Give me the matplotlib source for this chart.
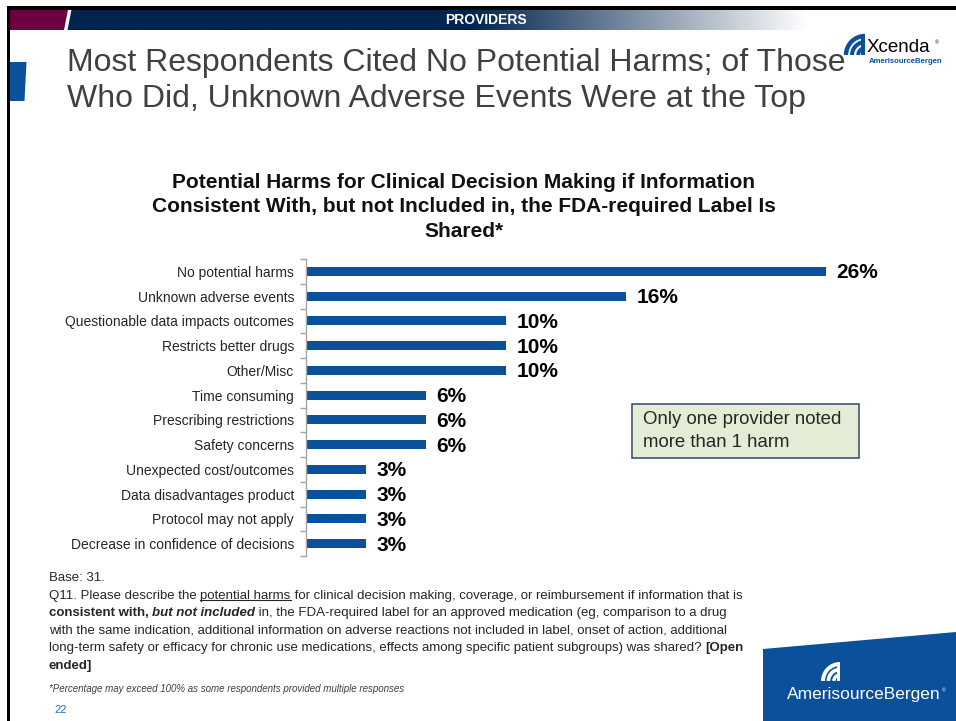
import numpy as np
import matplotlib
matplotlib.use("Agg")
import matplotlib.pyplot as plt
from matplotlib.patches import Polygon, Rectangle, Arc

# ---------------- data ----------------
categories = [
    "No potential harms",
    "Unknown adverse events",
    "Questionable data impacts outcomes",
    "Restricts better drugs",
    "Other/Misc",
    "Time consuming",
    "Prescribing restrictions",
    "Safety concerns",
    "Unexpected cost/outcomes",
    "Data disadvantages product",
    "Protocol may not apply",
    "Decrease in confidence of decisions",
]
values = [26, 16, 10, 10, 10, 6, 6, 6, 3, 3, 3, 3]
value_labels = ["26%", "16%", "10%", "10%", "10%", "6%", "6%", "6%", "3%", "3%", "3%", "3%"]

slide_title = ["Most Respondents Cited No Potential Harms; of Those",
               "Who Did, Unknown Adverse Events Were at the Top"]
chart_title = ("Potential Harms for Clinical Decision Making if Information\n"
               "Consistent With, but not Included in, the FDA-required Label Is\n"
               "Shared*")
callout = "Only one provider noted\nmore than 1 harm"

# ---------------- styles ----------------
FONT = "Liberation Sans"
plt.rcParams["font.family"] = [FONT, "DejaVu Sans"]
W, H = 956, 721
BAR_BLUE = "#0B509B"
NAVY = "#00244E"
MAROON = "#6B0042"
TXT = "#262626"

fig = plt.figure(figsize=(W / 100, H / 100), dpi=100)
fig.patch.set_facecolor("white")

# background axes in pixel coordinates
bg = fig.add_axes([0, 0, 1, 1])
bg.set_xlim(0, W)
bg.set_ylim(H, 0)
bg.axis("off")

# black frame (top and left)
bg.add_patch(Rectangle((7, 6), W - 7, 3.5, color="black", lw=0, zorder=5))
bg.add_patch(Rectangle((7, 6), 3, H - 6, color="black", lw=0, zorder=5))

# header band: maroon, slash, navy gradient to white
bg.add_patch(Polygon([(10, 9.5), (68, 9.5), (64, 30), (10, 30)], closed=True,
                     color=MAROON, lw=0, zorder=2))
grad = np.ones((1, 900, 3))
xs = np.linspace(10, W, 900)
navy_rgb = np.array(matplotlib.colors.to_rgb(NAVY))
t = np.clip((xs - 470) / (808 - 470), 0, 1)
grad[0] = navy_rgb[None, :] * (1 - t[:, None]) + np.ones(3)[None, :] * t[:, None]
bg.imshow(grad, extent=(10, W, 30, 9.5), aspect="auto", zorder=1, interpolation="bilinear")
bg.add_patch(Polygon([(68, 9.5), (71.5, 9.5), (67.5, 30), (64, 30)], closed=True,
                     color="white", lw=0, zorder=3))
bg.set_xlim(0, W)
bg.set_ylim(H, 0)
bg.text(486, 19.5, "PROVIDERS", color="white", fontsize=10, fontweight="bold",
        ha="center", va="center", zorder=4)

# left blue tab
bg.add_patch(Polygon([(10, 62), (26.5, 62), (24.5, 101), (10, 101)], closed=True,
                     color=BAR_BLUE, lw=0, zorder=2))

# slide title
bg.text(67, 63, slide_title[0], fontsize=23, color="#404040", ha="left", va="center")
bg.text(67, 99, slide_title[1], fontsize=23, color="#404040", ha="left", va="center")


def wave_icon(cx, cy, scale, color):
    # fan of arcs opening towards the upper-left, with a vertical bar on the right
    for r, lw in [(1.0, 3.0), (0.68, 2.8), (0.36, 2.6)]:
        rr = r * scale
        bg.add_patch(Arc((cx, cy), 2 * rr, 2 * rr, theta1=180, theta2=270,
                         color=color, lw=lw * scale / 18, zorder=4))
    bg.add_patch(Rectangle((cx - 0.2 * scale, cy - 1.05 * scale), 0.22 * scale, 1.05 * scale,
                           color=color, lw=0, zorder=4))


# Xcenda logo (top right)
wave_icon(865, 55, 19, BAR_BLUE)
bg.text(867, 47, "Xcenda", fontsize=13.5, color="black", ha="left", va="center")
bg.text(935, 43, "\u00ae", fontsize=3.5, color="black", ha="left", va="center")
bg.text(869, 61.5, "AmerisourceBergen", fontsize=5.6, color=BAR_BLUE, fontweight="bold",
        ha="left", va="center")

# bottom-right blue block and logo
bg.add_patch(Polygon([(763, 649), (W, 632), (W, H), (763, H)], closed=True,
                     color=BAR_BLUE, lw=0, zorder=2))
wave_icon(840, 681, 17, "white")
bg.text(787, 695, "AmerisourceBergen", fontsize=12.5, color="white", ha="left", va="center", zorder=4)
bg.text(942, 691, "\u00ae", fontsize=3.5, color="white", ha="left", va="center", zorder=4)

# chart title
bg.text(464, 207, chart_title, fontsize=15, fontweight="bold", color="#111111",
        ha="center", va="center", linespacing=1.36)

# ---------------- bar chart ----------------
ax_left, ax_top, ax_bottom = 306, 259, 556
px_per_unit = 20.0
xmax = 28
ax = fig.add_axes([ax_left / W, 1 - ax_bottom / H, xmax * px_per_unit / W, (ax_bottom - ax_top) / H])
ypos = np.arange(len(categories))
ax.barh(ypos, values, height=0.37, color=BAR_BLUE, zorder=2)
ax.set_xlim(0, xmax)
ax.set_ylim(len(categories) - 0.5, -0.5)
ax.set_facecolor("none")
for s in ["top", "right", "bottom"]:
    ax.spines[s].set_visible(False)
ax.spines["left"].set_color("#A6A6A6")
ax.spines["left"].set_linewidth(1.0)
ax.set_xticks([])
ax.set_yticks(np.arange(-0.5, len(categories), 1.0))
ax.set_yticklabels([])
ax.tick_params(axis="y", which="major", length=4, color="#A6A6A6", width=1.0)
ax.set_yticks(ypos, minor=True)
ax.set_yticklabels(categories, minor=True, fontsize=10, color=TXT)
ax.tick_params(axis="y", which="minor", length=0, pad=8.6)
for i, (v, lab) in enumerate(zip(values, value_labels)):
    ax.annotate(lab, (v, i), xytext=(7.3, -1), textcoords="offset points",
                fontsize=15, fontweight="bold", color="black", ha="left", va="center")

# callout box
bg.add_patch(Rectangle((632, 404), 227, 54, facecolor="#E3EDD5", edgecolor="#2E4A6B",
                       lw=1.1, zorder=3))
bg.text(643, 431, callout, fontsize=13.4, color=TXT, ha="left", va="center",
        linespacing=1.45, zorder=4)

# ---------------- footer with mixed-style runs ----------------
renderer = fig.canvas.get_renderer()
FS = 9.55


def draw_runs(x, y, runs):
    for txt, st in runs:
        tt = bg.text(x, y, txt, fontsize=st.get("size", FS), color=TXT, ha="left", va="baseline",
                     fontweight=st.get("weight", "normal"), fontstyle=st.get("style", "normal"))
        w = tt.get_window_extent(renderer).width
        if st.get("underline"):
            bg.plot([x, x + w], [y + 1.8, y + 1.8], color=TXT, lw=0.8)
        x += w


N = {}
B = {"weight": "bold"}
BI = {"weight": "bold", "style": "italic"}
U = {"underline": True}
y0 = 581
dy = 17.6
draw_runs(49, y0, [("Base: 31.", N)])
draw_runs(49, y0 + dy, [("Q11. Please describe the ", N), ("potential harms", U),
                        (" for clinical decision making, coverage, or reimbursement if information that is", N)])
draw_runs(49, y0 + 2 * dy, [("consistent with, ", B), ("but not included", BI),
                            (" in, the FDA-required label for an approved medication (eg, comparison to a drug", N)])
draw_runs(49, y0 + 3 * dy, [("with the same indication, additional information on adverse reactions not included in label, onset of action, additional", N)])
draw_runs(49, y0 + 4 * dy, [("long-term safety or efficacy for chronic use medications, effects among specific patient subgroups) was shared? ", N),
                            ("[Open", B)])
draw_runs(49, y0 + 5 * dy, [("ended]", B)])

bg.text(49, 689, "*Percentage may exceed 100% as some respondents provided multiple responses",
        fontsize=7, fontstyle="italic", color="#404040", ha="left", va="center")
bg.text(54, 710, "22", fontsize=8, color="#1F6FC0", ha="left", va="center")

fig.savefig("out.png", dpi=100)
